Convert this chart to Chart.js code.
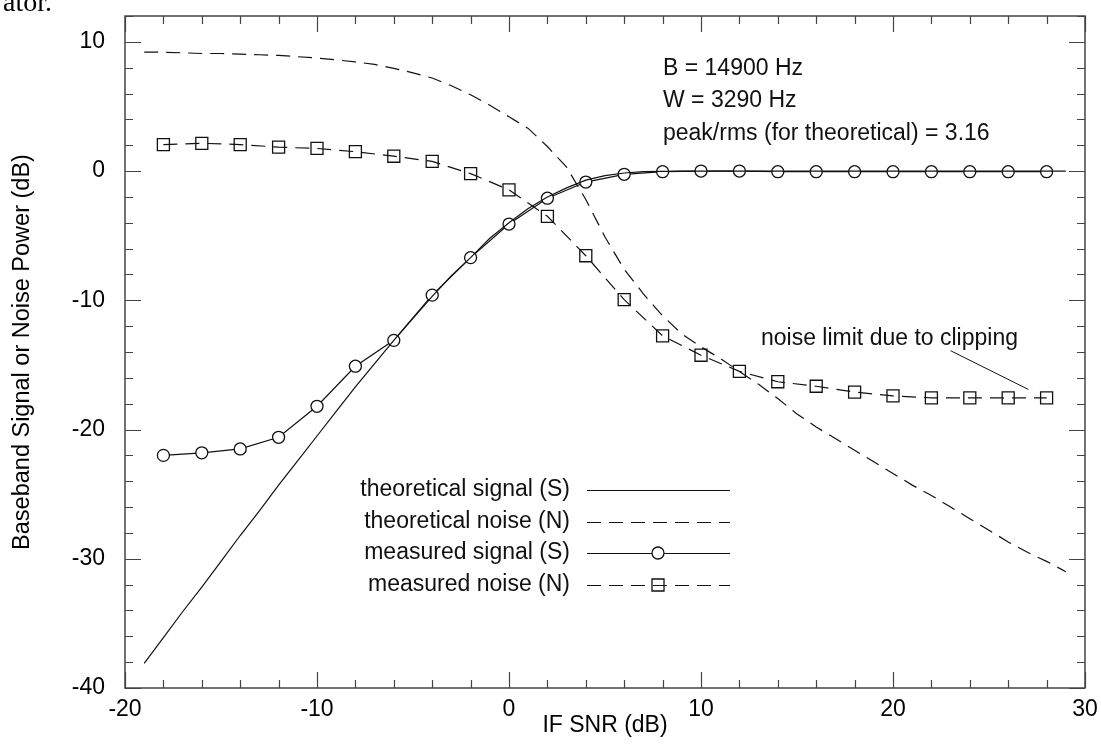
<!DOCTYPE html>
<html>
<head>
<meta charset="utf-8">
<script src="https://cdn.jsdelivr.net/npm/chart.js@4"></script>
<style>
  html, body { margin: 0; padding: 0; background: #fff; }
  canvas { display: block; }
</style>
</head>
<body>
<canvas id="chart" width="1101" height="745"></canvas>
<script>
// measured points, every 2 dB
let snrMeasured = [-18, -16, -14, -12, -10, -8, -6, -4, -2, 0, 2, 4, 6, 8, 10, 12, 14, 16, 18, 20, 22, 24, 26, 28];
let signalMeasured = [-22.0, -21.8, -21.5, -20.6, -18.2, -15.1, -13.1, -9.6, -6.7, -4.1, -2.1, -0.85, -0.25, -0.05, 0, 0, -0.05, -0.05, -0.05, -0.05, -0.05, -0.05, -0.05, -0.05];
let noiseMeasured = [2.05, 2.15, 2.05, 1.85, 1.75, 1.5, 1.15, 0.75, -0.2, -1.45, -3.5, -6.55, -9.95, -12.75, -14.25, -15.5, -16.3, -16.65, -17.1, -17.4, -17.55, -17.55, -17.55, -17.55];

// theoretical curves, every 1 dB
let snrTheory = [-19, -18, -17, -16, -15, -14, -13, -12, -11, -10, -9, -8, -7, -6, -5, -4, -3, -2, -1, 0,
  1, 2, 3, 4, 5, 6, 7, 8, 9, 10, 11, 12, 13, 14, 15, 16, 17, 18, 19, 20, 21, 22, 23, 24, 25, 26, 27, 28, 29];
let signalTheory = [-38.1, -36.1, -34.1, -32.2, -30.2, -28.2, -26.3, -24.3, -22.4, -20.5, -18.6, -16.7, -14.9, -13.1, -11.4, -9.7, -8.1, -6.7, -5.2, -4.0,
  -2.9, -2.0, -1.3, -0.7, -0.35, -0.15, -0.05, -0.02, 0, 0, 0, 0, 0, 0, 0, 0, 0, 0, 0, 0, 0, 0, 0, 0, 0, 0, 0, 0, 0];
let noiseTheory = [9.2, 9.2, 9.15, 9.1, 9.1, 9.05, 9.0, 8.95, 8.85, 8.75, 8.6, 8.45, 8.25, 7.95, 7.6, 7.2, 6.6, 5.9, 5.1, 4.2,
  3.3, 1.9, 0.3, -2.2, -5.1, -7.6, -9.5, -11.2, -12.6, -13.6, -14.5, -15.5, -16.5, -17.6, -18.8, -19.8, -20.7, -21.6, -22.5, -23.4,
  -24.3, -25.1, -26.0, -26.9, -27.8, -28.7, -29.5, -30.2, -31.0];

let xTicks = [-20, -10, 0, 10, 20, 30];
let yTicks = [-40, -30, -20, -10, 0, 10];

let seriesNames = ["theoretical signal (S)", "theoretical noise (N)", "measured signal (S)", "measured noise (N)"];

let FONT = '"Liberation Sans", Arial, sans-serif';
let INK = "#111";
let DASH = [14, 8];

let toPoints = function (xs, ys) {
  return xs.map(function (x, i) { return { x: x, y: ys[i] }; });
};

// frame + inward ticks + text, drawn with the chart's own scales
let framePlugin = {
  id: "frame",
  afterDraw: function (chart) {
    let ctx = chart.ctx;
    let xs = chart.scales.x;
    let ys = chart.scales.y;
    let a = chart.chartArea;

    ctx.save();
    ctx.strokeStyle = "#444";
    ctx.lineWidth = 1.5;
    ctx.strokeRect(a.left, a.top, a.right - a.left, a.bottom - a.top);

    ctx.lineWidth = 1.2;
    ctx.beginPath();
    for (let v = xs.min; v <= xs.max; v += 2) {
      let px = Math.round(xs.getPixelForValue(v)) + 0.5;
      let len = v % 10 === 0 ? 16 : 8;
      ctx.moveTo(px, a.bottom); ctx.lineTo(px, a.bottom - len);
      ctx.moveTo(px, a.top); ctx.lineTo(px, a.top + len);
    }
    for (let v = ys.min; v <= ys.max; v += 2) {
      let py = Math.round(ys.getPixelForValue(v)) + 0.5;
      let len = v % 10 === 0 ? 16 : 8;
      ctx.moveTo(a.left, py); ctx.lineTo(a.left + len, py);
      ctx.moveTo(a.right, py); ctx.lineTo(a.right - len, py);
    }
    ctx.stroke();

    // parameter block
    ctx.fillStyle = INK;
    ctx.font = "23px " + FONT;
    ctx.textAlign = "left";
    ctx.textBaseline = "middle";
    ctx.fillText("B = 14900 Hz", 663, 69);
    ctx.fillText("W = 3290 Hz", 663, 101);
    ctx.fillText("peak/rms (for theoretical) = 3.16", 663, 134);

    // clipping note with pointer
    ctx.textBaseline = "alphabetic";
    ctx.fillText("noise limit due to clipping", 761, 345);
    ctx.strokeStyle = INK;
    ctx.lineWidth = 1;
    ctx.beginPath();
    ctx.moveTo(xs.getPixelForValue(23.0), ys.getPixelForValue(-13.9));
    ctx.lineTo(xs.getPixelForValue(27.05), ys.getPixelForValue(-16.9));
    ctx.stroke();

    // legend
    let rows = [490, 522, 553, 585];
    chart.data.datasets.forEach(function (ds, i) {
      let y = rows[i];
      ctx.fillStyle = INK;
      ctx.textAlign = "right";
      ctx.textBaseline = "middle";
      ctx.fillText(ds.label, 570, y);
      ctx.strokeStyle = ds.borderColor;
      ctx.lineWidth = ds.borderWidth;
      ctx.setLineDash(ds.borderDash || []);
      ctx.beginPath();
      ctx.moveTo(587, y + 0.5);
      ctx.lineTo(730, y + 0.5);
      ctx.stroke();
      ctx.setLineDash([]);
      if (ds.pointRadius > 0) {
        ctx.fillStyle = ds.pointBackgroundColor;
        ctx.strokeStyle = ds.pointBorderColor;
        ctx.lineWidth = ds.pointBorderWidth;
        ctx.beginPath();
        if (ds.pointStyle === "circle") {
          ctx.arc(658, y, ds.pointRadius, 0, Math.PI * 2);
          ctx.fill();
        } else {
          let s = ds.pointRadius * Math.SQRT1_2;
          ctx.rect(658 - s, y - s, 2 * s, 2 * s);
        }
        ctx.stroke();
      }
    });

    // scrap of the surrounding page text
    ctx.font = "28px \"Liberation Serif\", serif";
    ctx.textAlign = "right";
    ctx.textBaseline = "alphabetic";
    ctx.fillStyle = "#000";
    ctx.fillText("ator.", 52, 11);
    ctx.restore();
  }
};

let chartDraw = function () {
  let ctx = document.getElementById("chart").getContext("2d");

  new Chart(ctx, {
    type: "line",
    data: {
      datasets: [
        {
          label: seriesNames[0],
          data: toPoints(snrTheory, signalTheory),
          borderColor: INK,
          borderWidth: 1.2,
          pointRadius: 0,
          tension: 0
        },
        {
          label: seriesNames[1],
          data: toPoints(snrTheory, noiseTheory),
          borderColor: INK,
          borderWidth: 1.2,
          borderDash: DASH,
          pointRadius: 0,
          tension: 0
        },
        {
          label: seriesNames[2],
          data: toPoints(snrMeasured, signalMeasured),
          borderColor: INK,
          borderWidth: 1.2,
          pointStyle: "circle",
          pointRadius: 6,
          pointBorderWidth: 1.3,
          pointBorderColor: INK,
          pointBackgroundColor: "#fff",
          tension: 0
        },
        {
          label: seriesNames[3],
          data: toPoints(snrMeasured, noiseMeasured),
          borderColor: INK,
          borderWidth: 1.2,
          borderDash: DASH,
          pointStyle: "rect",
          pointRadius: 8.5,
          pointBorderWidth: 1.3,
          pointBorderColor: INK,
          pointBackgroundColor: "rgba(0,0,0,0)",
          tension: 0
        }
      ]
    },
    options: {
      responsive: false,
      animation: false,
      devicePixelRatio: 1,
      layout: { padding: { left: 0, top: 16, right: 16, bottom: 0 } },
      plugins: {
        legend: { display: false },
        tooltip: { enabled: false }
      },
      scales: {
        x: {
          type: "linear",
          min: -20,
          max: 30,
          grid: { display: false, drawTicks: false },
          border: { display: false },
          ticks: { color: "#000", font: { size: 23, family: FONT }, padding: 8, maxRotation: 0 },
          title: { display: true, text: "IF SNR (dB)", color: "#000", font: { size: 23, family: FONT }, padding: { top: 0, bottom: 6 } },
          afterBuildTicks: function (scale) {
            scale.ticks = xTicks.map(function (v) { return { value: v }; });
          },
          afterFit: function (scale) {
            scale.height = 57;
            scale.paddingLeft = 0;
            scale.paddingRight = 0;
          }
        },
        y: {
          type: "linear",
          min: -40,
          max: 12,
          grid: { display: false, drawTicks: false },
          border: { display: false },
          ticks: { color: "#000", font: { size: 23, family: FONT }, padding: 20 },
          title: { display: true, text: "Baseband Signal or Noise Power (dB)", color: "#000", font: { size: 23.5, family: FONT }, padding: { top: 8, bottom: 0 } },
          afterBuildTicks: function (scale) {
            scale.ticks = yTicks.map(function (v) { return { value: v }; });
          },
          afterFit: function (scale) {
            scale.width = 125;
            scale.paddingTop = 0;
            scale.paddingBottom = 0;
          }
        }
      }
    },
    plugins: [framePlugin]
  });
};

window.onload = function () {
  chartDraw();
};
</script>
</body>
</html>
